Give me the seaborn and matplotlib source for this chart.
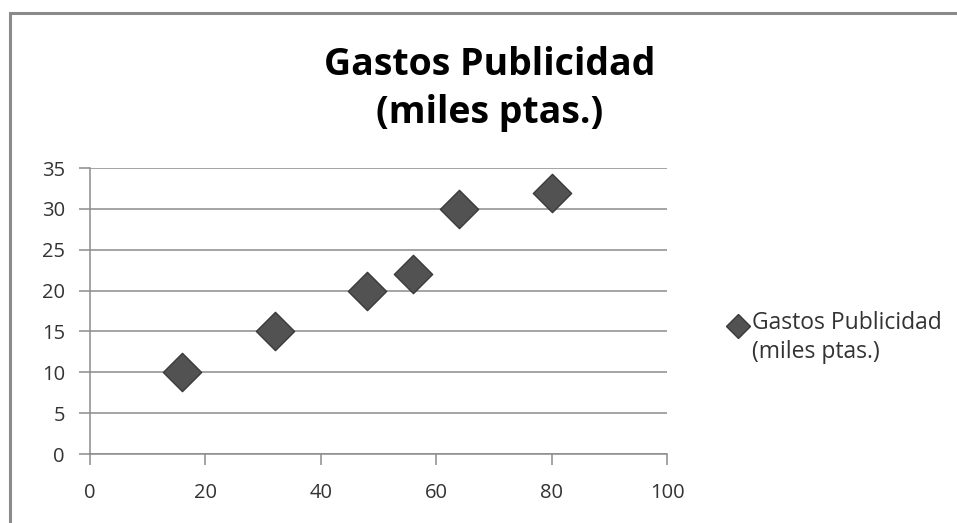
import matplotlib
matplotlib.use("Agg")
import matplotlib.pyplot as plt
from matplotlib.lines import Line2D
from matplotlib.patches import Rectangle
from matplotlib.legend_handler import HandlerLine2D
import seaborn as sns
import pandas as pd

x_vals = [16, 32, 48, 56, 64, 80]
y_vals = [10, 15, 20, 22, 30, 32]
series_name = "Gastos Publicidad\n(miles ptas.)"
title_text = "Gastos Publicidad\n(miles ptas.)"
x_ticks = [0, 20, 40, 60, 80, 100]
y_ticks = [0, 5, 10, 15, 20, 25, 30, 35]

sns.set_theme(style="white")
plt.rcParams['font.family'] = ['Open Sans', 'DejaVu Sans']

W, H = 957, 523
fig = plt.figure(figsize=(W / 100, H / 100), dpi=100)
fig.patch.set_facecolor("white")

# outer chart frame
fig.add_artist(Rectangle((10 / W, -0.1), 1.2, 1 - 13 / H + 0.1, transform=fig.transFigure,
                         fill=False, edgecolor="#8a8a8a", linewidth=2.2))

ax = fig.add_axes([90 / W, 1 - 454 / H, (667 - 90) / W, (454 - 168) / H])
df = pd.DataFrame({"x": x_vals, "y": y_vals})
sns.scatterplot(data=df, x="x", y="y", marker="D", s=380, color="#525252",
                edgecolor="#3a3a3a", linewidth=1.0, ax=ax, zorder=3, legend=False)

ax.set_xlim(0, 100)
ax.set_ylim(0, 35)
ax.set_xticks(x_ticks)
ax.set_yticks(y_ticks)
ax.set_xlabel("")
ax.set_ylabel("")
ax.yaxis.grid(True, color="#8c8c8c", linewidth=1.1)
ax.xaxis.grid(False)
for s in ["top", "right"]:
    ax.spines[s].set_visible(False)
for s in ["left", "bottom"]:
    ax.spines[s].set_color("#8c8c8c")
    ax.spines[s].set_linewidth(1.1)
ax.tick_params(axis="both", which="major", direction="out", length=8, width=1.1,
               color="#8c8c8c", labelsize=14.5, labelcolor="#333333")
ax.tick_params(axis="y", pad=10)
ax.tick_params(axis="x", pad=13)
ax.yaxis.set_ticks_position("left")
ax.xaxis.set_ticks_position("bottom")

fig.text(490 / W, 1 - 46 / H, title_text, ha="center", va="top",
         fontsize=27, fontweight="bold", color="black", linespacing=1.33)


class UpHandler(HandlerLine2D):
    def create_artists(self, legend, orig_handle, xdescent, ydescent, width,
                       height, fontsize, trans):
        arts = super().create_artists(legend, orig_handle, xdescent, ydescent,
                                      width, height, fontsize, trans)
        for a in arts:
            a.set_ydata([y + 8.5 for y in a.get_ydata()])
        return arts


handle = Line2D([], [], marker="D", linestyle="none", markersize=12,
                markerfacecolor="#525252", markeredgecolor="#3a3a3a")
leg = fig.legend([handle], [series_name], loc="upper left",
                 bbox_to_anchor=(727 / W, 1 - 311 / H), frameon=False,
                 fontsize=16.5, handlelength=1.0, handletextpad=0.08,
                 borderaxespad=0, borderpad=0,
                 handler_map={Line2D: UpHandler()})
for t in leg.get_texts():
    t.set_color("#333333")
    t.set_linespacing(1.25)

fig.savefig("out.png", dpi=100, facecolor="white")
